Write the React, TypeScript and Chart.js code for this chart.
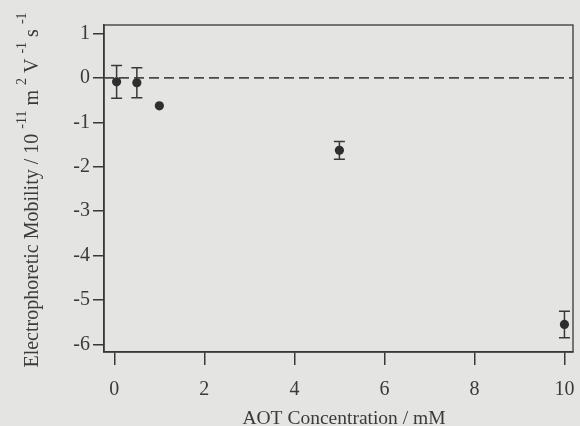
import React, { useEffect, useRef } from "react";
import { Chart, registerables } from "chart.js";

Chart.register(...registerables);

// AOT concentration (mM)
const concentrations = [0.05, 0.5, 1, 5, 10];
// Electrophoretic mobility (10^-11 m^2 V^-1 s^-1)
const mobility = [-0.09, -0.11, -0.63, -1.63, -5.55];
const mobilityError = [0.37, 0.34, 0, 0.2, 0.3];

const xTickStep = 2;
const yTickStep = 1;
const xTitle = "AOT Concentration / mM";
const yTitleParts: { t: string; sup?: boolean }[] = [
  { t: "Electrophoretic Mobility / 10 " },
  { t: "-11", sup: true },
  { t: " m " },
  { t: "2", sup: true },
  { t: " V " },
  { t: "-1", sup: true },
  { t: " s " },
  { t: "-1", sup: true },
];

const INK = "#383838";
const TEXT = "#3a3a3a";
const PAPER = "#e4e4e2";
const FONT = "'Liberation Serif', 'Times New Roman', serif";

export default function App() {
  const ref = useRef<HTMLCanvasElement | null>(null);

  useEffect(() => {
    if (!ref.current) return;

    const decor = {
      id: "decor",
      beforeDraw(chart: any) {
        const { ctx, width, height } = chart;
        ctx.save();
        ctx.fillStyle = PAPER;
        ctx.fillRect(0, 0, width, height);
        ctx.restore();
      },
      beforeDatasetsDraw(chart: any) {
        const { ctx, chartArea, scales } = chart;
        const xs = scales.x;
        const ys = scales.y;
        ctx.save();
        // frame
        ctx.strokeStyle = INK;
        ctx.lineWidth = 1.3;
        ctx.strokeRect(chartArea.left, chartArea.top, chartArea.right - chartArea.left, chartArea.bottom - chartArea.top);
        // zero dashed line
        const y0 = ys.getPixelForValue(0);
        ctx.setLineDash([10, 5]);
        ctx.lineWidth = 1.6;
        ctx.strokeStyle = "#4a4a4a";
        ctx.beginPath();
        ctx.moveTo(chartArea.left, y0);
        ctx.lineTo(chartArea.right, y0);
        ctx.stroke();
        ctx.setLineDash([]);
        // error bars
        ctx.strokeStyle = INK;
        ctx.lineWidth = 1.5;
        for (let i = 0; i < concentrations.length; i++) {
          const e = mobilityError[i];
          if (!e) continue;
          const px = xs.getPixelForValue(concentrations[i]);
          const pTop = ys.getPixelForValue(mobility[i] + e);
          const pBot = ys.getPixelForValue(mobility[i] - e);
          ctx.beginPath();
          ctx.moveTo(px, pTop);
          ctx.lineTo(px, pBot);
          ctx.moveTo(px - 5.5, pTop);
          ctx.lineTo(px + 5.5, pTop);
          ctx.moveTo(px - 5.5, pBot);
          ctx.lineTo(px + 5.5, pBot);
          ctx.stroke();
        }
        ctx.restore();
      },
      afterDraw(chart: any) {
        const { ctx } = chart;
        ctx.save();
        ctx.fillStyle = TEXT;
        // x title
        ctx.font = `19.5px ${FONT}`;
        ctx.textAlign = "center";
        ctx.textBaseline = "alphabetic";
        ctx.fillText(xTitle, 344, 424);
        // y title with superscripts
        const mainFont = `20px ${FONT}`;
        const supFont = `14px ${FONT}`;
        let total = 0;
        for (const p of yTitleParts) {
          ctx.font = p.sup ? supFont : mainFont;
          total += ctx.measureText(p.t).width;
        }
        const cy = 190;
        ctx.translate(38, cy);
        ctx.rotate(-Math.PI / 2);
        ctx.textAlign = "left";
        let x = -total / 2;
        for (const p of yTitleParts) {
          ctx.font = p.sup ? supFont : mainFont;
          ctx.fillText(p.t, x, p.sup ? -12 : 0);
          x += ctx.measureText(p.t).width;
        }
        ctx.restore();
      },
    };

    const chart = new Chart(ref.current, {
      type: "scatter",
      data: {
        datasets: [
          {
            data: concentrations.map((c, i) => ({ x: c, y: mobility[i] })),
            backgroundColor: "#2e2e2e",
            borderColor: "#2e2e2e",
            pointRadius: 4.6,
            pointHoverRadius: 4.6,
            borderWidth: 0,
          },
        ],
      },
      options: {
        animation: false,
        responsive: false,
        maintainAspectRatio: false,
        devicePixelRatio: 1,
        layout: { padding: { top: 25, right: 7, left: 0, bottom: 0 } },
        plugins: {
          legend: { display: false },
          tooltip: { enabled: false },
          title: { display: false },
        },
        scales: {
          x: {
            type: "linear",
            min: -0.23,
            max: 10.19,
            afterFit: (s: any) => {
              s.height = 74;
              s.paddingLeft = 0;
              s.paddingRight = 0;
            },
            border: { display: true, color: INK, width: 1.5 },
            grid: {
              display: true,
              drawOnChartArea: false,
              drawTicks: true,
              tickLength: 13,
              color: INK,
              lineWidth: 1.5,
            },
            ticks: {
              stepSize: xTickStep,
              includeBounds: false,
              color: TEXT,
              padding: 13,
              maxRotation: 0,
              font: { family: FONT, size: 20 },
            },
          },
          y: {
            type: "linear",
            min: -6.17,
            max: 1.19,
            afterFit: (s: any) => {
              s.width = 104;
              s.paddingTop = 0;
              s.paddingBottom = 0;
            },
            border: { display: true, color: INK, width: 1.5 },
            grid: {
              display: true,
              drawOnChartArea: false,
              drawTicks: true,
              tickLength: 11,
              color: INK,
              lineWidth: 1.5,
            },
            ticks: {
              stepSize: yTickStep,
              includeBounds: false,
              color: TEXT,
              padding: 3,
              font: { family: FONT, size: 20 },
            },
          },
        },
      } as any,
      plugins: [decor],
    });

    return () => chart.destroy();
  }, []);

  return (
    <div style={{ position: "fixed", left: 0, top: 0, width: 580, height: 426 }}>
      <canvas ref={ref} width={580} height={426} style={{ width: 580, height: 426, display: "block" }} />
    </div>
  );
}
